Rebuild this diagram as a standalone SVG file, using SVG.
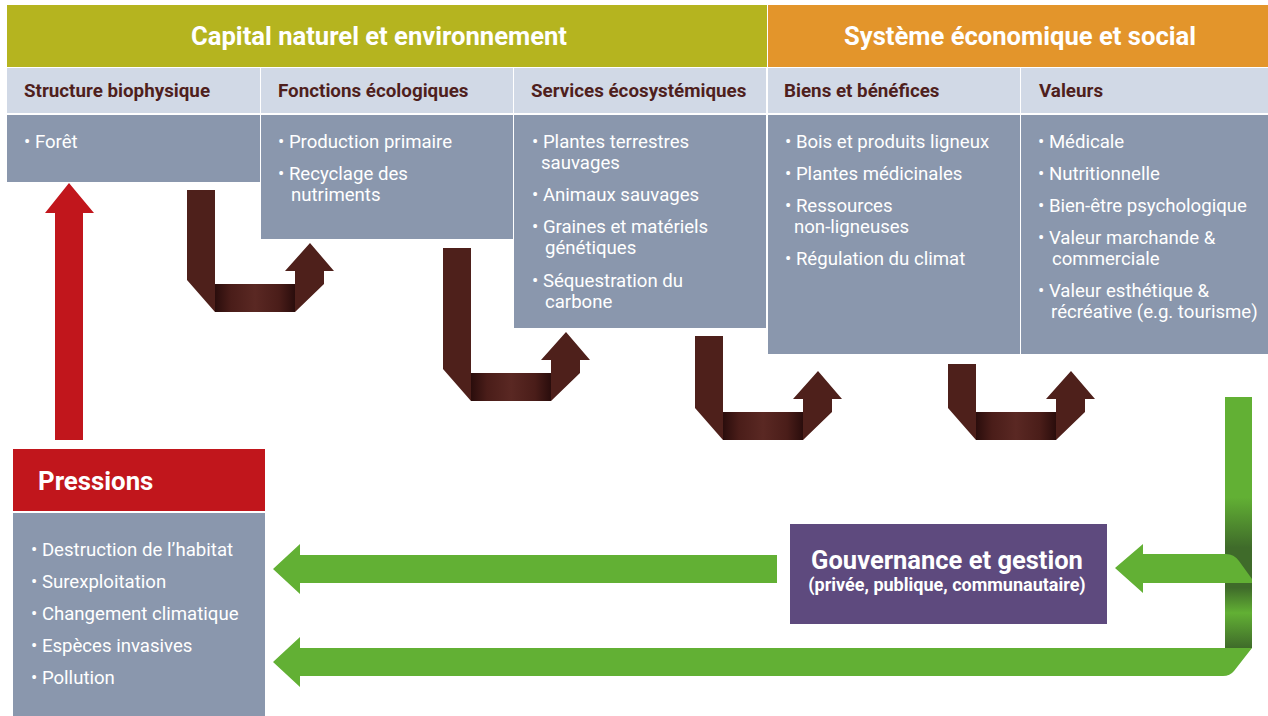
<svg xmlns="http://www.w3.org/2000/svg" width="1268" height="716" viewBox="0 0 1268 716">
<style>
text{font-family:Roboto,"Liberation Sans",sans-serif}
.h1{font-size:25.6px;font-weight:700;fill:#fff}
.h2{font-size:18.8px;font-weight:700;fill:#4f1f1d}
.b{font-size:18.6px;fill:#fff}
.hd{fill:#d1d9e6}
.bd{fill:#8a97ad}
.brown{fill:#4e201b}
.green{fill:#62b034}
</style>
<defs>
<linearGradient id="band" x1="0" y1="0" x2="1" y2="0">
<stop offset="0" stop-color="#2a0d0c"/>
<stop offset="0.2" stop-color="#4a1d19"/>
<stop offset="0.5" stop-color="#5a2823"/>
<stop offset="0.8" stop-color="#4a1d19"/>
<stop offset="1" stop-color="#2a0d0c"/>
</linearGradient>
<linearGradient id="gv" gradientUnits="userSpaceOnUse" x1="0" y1="397" x2="0" y2="648">
<stop offset="0" stop-color="#62b034"/>
<stop offset="0.4" stop-color="#62b034"/>
<stop offset="0.6" stop-color="#3f6b2a"/>
<stop offset="0.72" stop-color="#3f6b2a"/>
<stop offset="0.76" stop-color="#3f6b2a"/>
<stop offset="0.86" stop-color="#62b034"/>
<stop offset="1" stop-color="#3f6b2a"/>
</linearGradient>
</defs>

<g id="header-capital">
<rect x="7" y="5" width="760" height="62" fill="#b5b41f"/>
<text class="h1" x="379" y="45" text-anchor="middle">Capital naturel et environnement</text>
</g>
<g id="header-systeme">
<rect x="768" y="5" width="500" height="62" fill="#e3952b"/>
<text class="h1" x="1020" y="45" text-anchor="middle">Système économique et social</text>
</g>

<g id="col-structure">
<rect class="hd" x="7" y="68" width="253" height="45"/>
<text class="h2" x="24" y="97">Structure biophysique</text>
<rect class="bd" x="7" y="115" width="253" height="67"/>
<text class="b" x="24" y="148">• Forêt</text>
</g>

<g id="col-fonctions">
<rect class="hd" x="261" y="68" width="252" height="45"/>
<text class="h2" x="278" y="97">Fonctions écologiques</text>
<rect class="bd" x="261" y="115" width="252" height="124"/>
<text class="b" x="278" y="148">• Production primaire</text>
<text class="b" x="278" y="180">• Recyclage des</text>
<text class="b" x="291" y="201">nutriments</text>
</g>

<g id="col-services">
<rect class="hd" x="514" y="68" width="252" height="45"/>
<text class="h2" x="531" y="97">Services écosystémiques</text>
<rect class="bd" x="514" y="115" width="252" height="213"/>
<text class="b" x="532" y="148">• Plantes terrestres</text>
<text class="b" x="541" y="169">sauvages</text>
<text class="b" x="532" y="201">• Animaux sauvages</text>
<text class="b" x="532" y="233">• Graines et matériels</text>
<text class="b" x="545" y="254">génétiques</text>
<text class="b" x="532" y="287">• Séquestration du</text>
<text class="b" x="545" y="308">carbone</text>
</g>

<g id="col-biens">
<rect class="hd" x="768" y="68" width="252" height="45"/>
<text class="h2" x="784" y="97">Biens et bénéfices</text>
<rect class="bd" x="768" y="115" width="252" height="239"/>
<text class="b" x="785" y="148">• Bois et produits ligneux</text>
<text class="b" x="785" y="180">• Plantes médicinales</text>
<text class="b" x="785" y="212">• Ressources</text>
<text class="b" x="794" y="233">non-ligneuses</text>
<text class="b" x="785" y="265">• Régulation du climat</text>
</g>

<g id="col-valeurs">
<rect class="hd" x="1021" y="68" width="247" height="45"/>
<text class="h2" x="1039" y="97">Valeurs</text>
<rect class="bd" x="1021" y="115" width="247" height="239"/>
<text class="b" x="1038" y="148">• Médicale</text>
<text class="b" x="1038" y="180">• Nutritionnelle</text>
<text class="b" x="1038" y="212">• Bien-être psychologique</text>
<text class="b" x="1038" y="244">• Valeur marchande &amp;</text>
<text class="b" x="1052" y="265">commerciale</text>
<text class="b" x="1038" y="297">• Valeur esthétique &amp;</text>
<text class="b" x="1051" y="318">récréative (e.g. tourisme)</text>
</g>

<g id="pressions">
<rect x="13" y="449" width="252" height="62" fill="#c1161c"/>
<text x="38" y="490" style="font-size:25.8px;font-weight:700;fill:#fff">Pressions</text>
<rect class="bd" x="13" y="513" width="252" height="203"/>
<text class="b" x="31" y="556">• Destruction de l’habitat</text>
<text class="b" x="31" y="588">• Surexploitation</text>
<text class="b" x="31" y="620">• Changement climatique</text>
<text class="b" x="31" y="652">• Espèces invasives</text>
<text class="b" x="31" y="684">• Pollution</text>
</g>

<g id="gouvernance">
<rect x="790" y="524" width="317" height="100" fill="#5e4a7e"/>
<text x="947" y="569" text-anchor="middle" style="font-size:25.5px;font-weight:700;fill:#fff">Gouvernance et gestion</text>
<text x="947" y="591" text-anchor="middle" style="font-size:18px;font-weight:700;fill:#fff">(privée, publique, communautaire)</text>
</g>

<g id="connectors">
<path fill="#c1161c" d="M55,440 V213 H45 L69,183 L94,213 H83 V440 Z"/>

<path class="brown" d="M187,190 H215 V284 H295 V271 H285 L310,243 L334,271 H324 V284 L295,312 H215 L187,280 Z"/>
<rect x="215" y="284" width="80" height="28" fill="url(#band)"/>

<path class="brown" d="M443,248 H471 V373 H551 V360 H541 L566,332 L590,360 H580 V373 L551,401 H471 L443,369 Z"/>
<rect x="471" y="373" width="80" height="28" fill="url(#band)"/>

<path class="brown" d="M695,336 H723 V412 H803 V399 H793 L818,371 L842,399 H832 V412 L803,440 H723 L695,408 Z"/>
<rect x="723" y="412" width="80" height="28" fill="url(#band)"/>

<path class="brown" d="M948,364 H976 V412 H1056 V399 H1046 L1071,371 L1095,399 H1085 V412 L1056,440 H976 L948,408 Z"/>
<rect x="976" y="412" width="80" height="28" fill="url(#band)"/>

<path class="green" d="M777,555 H300 V544 L273,569 L300,594 V583 H777 Z"/>
<rect x="1225" y="397" width="27" height="251" fill="url(#gv)"/>
<path class="green" d="M1252,583 H1143 V593 L1115,568 L1143,544 V554 H1226 Q1234,554 1239,561 L1252,579 Z"/>
<path class="green" d="M1252,648 L1234,671 Q1230,676 1223,676 H300 V687 L273,662 L300,637 V648 Z"/>
</g>
</svg>
